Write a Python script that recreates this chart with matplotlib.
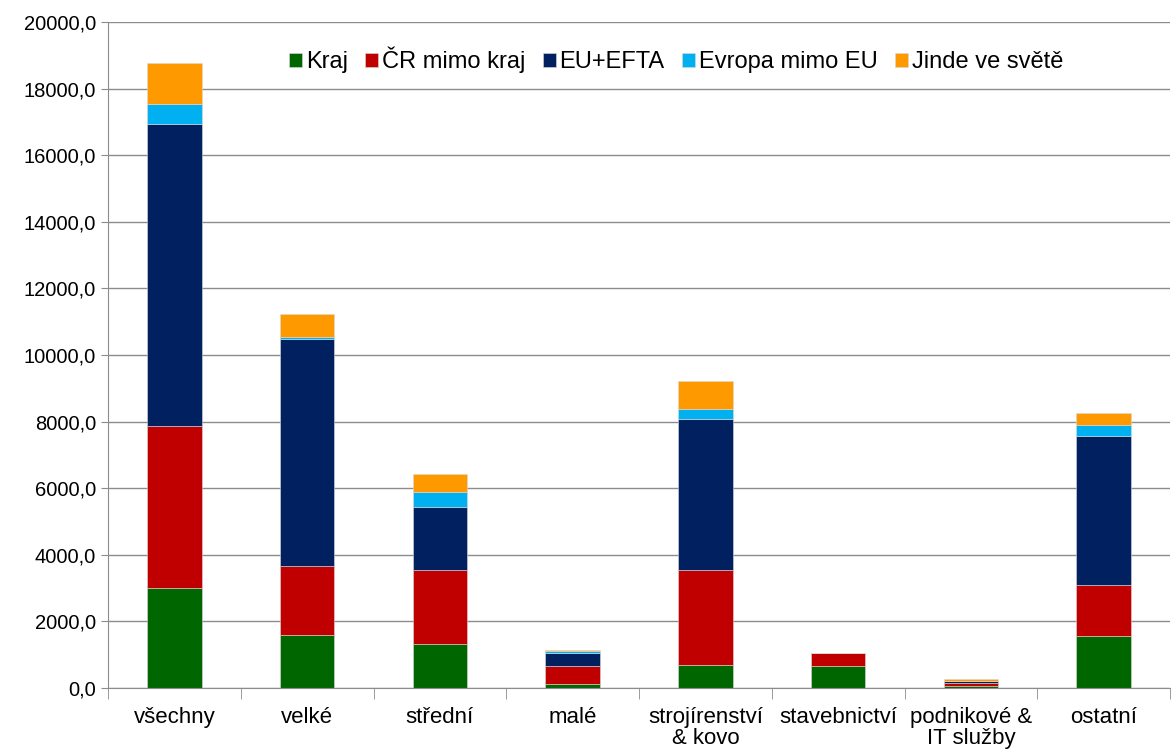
import numpy as np
import matplotlib
matplotlib.use("Agg")
import matplotlib.pyplot as plt
from matplotlib.ticker import FuncFormatter, FixedLocator

plt.rcParams['font.family'] = ['Liberation Sans', 'DejaVu Sans']

# data
categories = ["všechny", "velké", "střední", "malé", "strojírenství\n& kovo",
              "stavebnictví", "podnikové &\nIT služby", "ostatní"]
kraj = [3000, 1580, 1320, 130, 690, 670, 70, 1560]
cr_mimo = [4870, 2080, 2220, 530, 2850, 370, 90, 1530]
eu_efta = [9070, 6820, 1890, 380, 4540, 0, 50, 4480]
evropa = [600, 60, 450, 60, 300, 0, 10, 330]
jinde = [1230, 690, 540, 40, 840, 0, 40, 360]

series = [
    ("Kraj", kraj, "#006600"),
    ("ČR mimo kraj", cr_mimo, "#C00000"),
    ("EU+EFTA", eu_efta, "#002060"),
    ("Evropa mimo EU", evropa, "#00B0F0"),
    ("Jinde ve světě", jinde, "#FF9900"),
]

fig = plt.figure(figsize=(11.71, 7.53), dpi=100)
ax = fig.add_axes([108 / 1171, 1 - 688 / 753, 1062 / 1171, 666 / 753])

x = np.arange(len(categories))
bottom = np.zeros(len(categories))
for name, vals, col in series:
    vals = np.array(vals, dtype=float)
    ax.bar(x, vals, 0.41, bottom=bottom, color=col, label=name,
           edgecolor="#d9d9d9", linewidth=0.4)
    bottom += vals

ax.set_xlim(-0.5, len(categories) - 0.5)
ax.set_ylim(0, 20000)
ax.set_yticks(np.arange(0, 20001, 2000))
ax.yaxis.set_major_formatter(FuncFormatter(lambda v, p: f"{v:.1f}".replace(".", ",")))
ax.grid(axis="y", color="#8c8c8c", linewidth=1)
ax.set_axisbelow(True)

ax.set_xticks(x)
ax.set_xticklabels(categories, fontsize=16, linespacing=0.95)
ax.xaxis.set_minor_locator(FixedLocator(np.arange(-0.5, len(categories), 1)))
ax.tick_params(axis="x", which="major", length=0, pad=14)
ax.tick_params(axis="x", which="minor", length=8, color="#8c8c8c")
ax.tick_params(axis="y", labelsize=14.5, length=5, color="#8c8c8c")

for s in ["top", "right"]:
    ax.spines[s].set_visible(False)
ax.spines["left"].set_color("#8c8c8c")
ax.spines["bottom"].set_color("#8c8c8c")

ax.legend(loc="upper center", bbox_to_anchor=(0.535, 0.995), ncol=5, frameon=False,
          fontsize=17, handlelength=0.55, handleheight=0.55, handletextpad=0.15,
          columnspacing=0.75)

fig.savefig("out.png", dpi=100)
